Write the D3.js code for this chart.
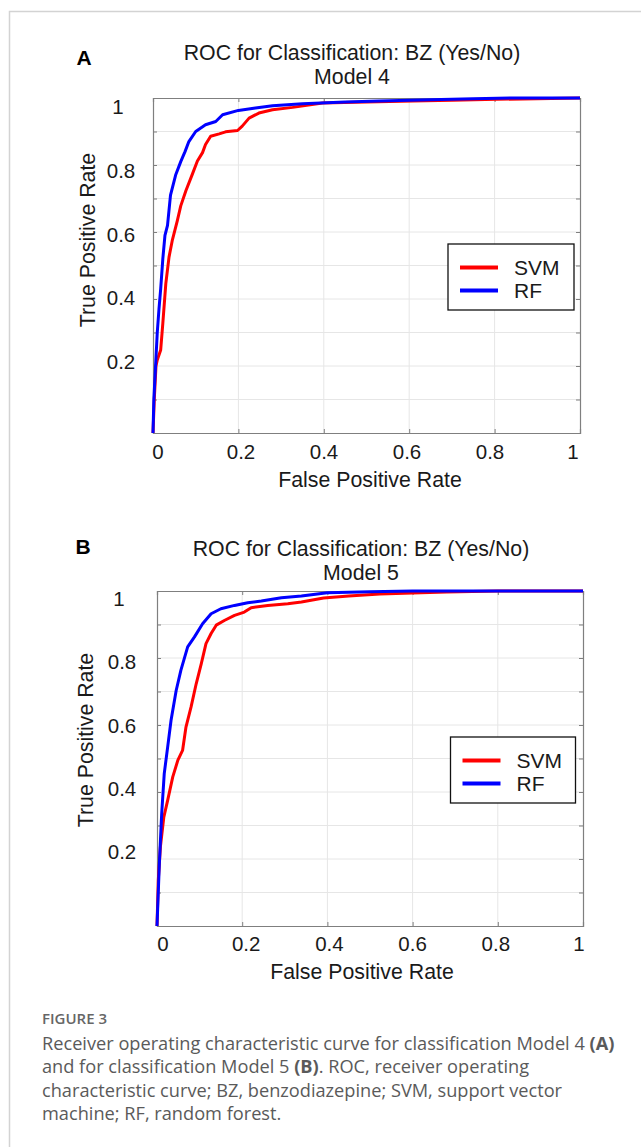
<!DOCTYPE html>
<html>
<head>
<meta charset="utf-8">
<script src="https://cdn.jsdelivr.net/npm/d3@7"></script>
<style>
  html, body { margin: 0; padding: 0; background: #fff; }
  svg { display: block; }
</style>
</head>
<body>
<svg id="chart" width="641" height="1147"></svg>
<script>
// ---------------- DATA ----------------
const seriesNames = ["SVM", "RF"];
const seriesColors = ["#ff0000", "#0000ff"];
const xTickLabels = [0, 0.2, 0.4, 0.6, 0.8, 1];
const yTickLabels = [0.2, 0.4, 0.6, 0.8, 1];
const yGridValues = [0.1, 0.2, 0.3, 0.4, 0.5, 0.6, 0.7, 0.8, 0.9];
const xGridValues = [0.2, 0.4, 0.6, 0.8];

// Panel A (Model 4): [false positive rate, true positive rate]
const modelA_SVM = [[0,0],[0.003,0.10],[0.007,0.20],[0.010,0.218],[0.018,0.248],[0.023,0.327],[0.030,0.446],[0.0375,0.525],[0.045,0.574],[0.057,0.634],[0.065,0.678],[0.077,0.723],[0.092,0.772],[0.104,0.812],[0.116,0.837],[0.123,0.861],[0.135,0.886],[0.155,0.893],[0.170,0.899],[0.198,0.903],[0.209,0.916],[0.225,0.94],[0.248,0.955],[0.280,0.965],[0.327,0.972],[0.397,0.985],[0.50,0.988],[0.608,0.991],[0.70,0.993],[0.805,0.996],[0.90,0.998],[1,1]];
const modelA_RF = [[0,0],[0.002,0.10],[0.006,0.20],[0.010,0.30],[0.014,0.37],[0.018,0.43],[0.023,0.52],[0.028,0.59],[0.034,0.62],[0.041,0.71],[0.053,0.77],[0.065,0.81],[0.075,0.84],[0.084,0.87],[0.100,0.90],[0.123,0.92],[0.147,0.93],[0.163,0.95],[0.200,0.963],[0.240,0.970],[0.280,0.977],[0.35,0.983],[0.45,0.988],[0.53,0.991],[0.65,0.995],[0.75,0.998],[0.85,1.0],[1,1]];

// Panel B (Model 5)
const modelB_SVM = [[0,0],[0.003,0.136],[0.008,0.236],[0.016,0.325],[0.025,0.375],[0.037,0.445],[0.049,0.495],[0.06,0.524],[0.068,0.594],[0.08,0.654],[0.092,0.723],[0.104,0.783],[0.115,0.843],[0.127,0.873],[0.139,0.898],[0.158,0.912],[0.182,0.927],[0.205,0.937],[0.221,0.950],[0.26,0.957],[0.307,0.962],[0.339,0.967],[0.391,0.979],[0.45,0.985],[0.523,0.991],[0.60,0.994],[0.68,0.997],[0.80,1],[1,1]];
const modelB_RF = [[0,0],[0.0055,0.186],[0.011,0.335],[0.017,0.455],[0.025,0.534],[0.033,0.614],[0.045,0.703],[0.056,0.763],[0.072,0.833],[0.088,0.863],[0.107,0.902],[0.127,0.932],[0.15,0.947],[0.182,0.957],[0.213,0.965],[0.245,0.970],[0.292,0.980],[0.339,0.985],[0.40,0.995],[0.50,0.998],[0.60,1],[1,1]];

const panelLetters = ["A", "B"];
const panelTitles = ["ROC for Classification: BZ (Yes/No)", "ROC for Classification: BZ (Yes/No)"];
const panelSubtitles = ["Model 4", "Model 5"];
const xAxisTitle = "False Positive Rate";
const yAxisTitle = "True Positive Rate";

// ---------------- DRAW ----------------
const svg = d3.select("#chart");
const FONT = "'Liberation Sans', Arial, Helvetica, sans-serif";

// outer frame
svg.append("path")
  .attr("d", "M9.5,1147 L9.5,11.5 L641,11.5")
  .attr("fill", "none").attr("stroke", "#d3d3d3").attr("stroke-width", 1.5);

const layouts = [
  { left:153, right:580, top:98, bottom:433,
    xlab:[158,573], xlabY:452, ylab:[362,107], ylabX:121,
    titleX:352, titleY:53, subY:77, letterX:84, letterY:57,
    xTitleX:370, xTitleY:480, yTitleX:88, yTitleY:240,
    legend:{x:448, y:244, w:126, h:66} },
  { left:157, right:583, top:591, bottom:926,
    xlab:[163,579], xlabY:944, ylab:[852,599], ylabX:122,
    titleX:361, titleY:549, subY:573, letterX:83, letterY:546,
    xTitleX:362, xTitleY:972, yTitleX:86, yTitleY:740,
    legend:{x:450.5, y:737, w:125, h:66} }
];
const panelData = [[modelA_SVM, modelA_RF], [modelB_SVM, modelB_RF]];

layouts.forEach((L, p) => {
  const g = svg.append("g");
  const x = d3.scaleLinear().domain([0, 1]).range([L.left, L.right]);
  const y = d3.scaleLinear().domain([0, 1]).range([L.bottom, L.top]);
  const xLab = d3.scaleLinear().domain([0, 1]).range(L.xlab);
  const yLab = d3.scaleLinear().domain([0.2, 1]).range(L.ylab);

  // grid
  g.append("g").selectAll("line").data(yGridValues).join("line")
    .attr("x1", L.left).attr("x2", L.right)
    .attr("y1", d => y(d)).attr("y2", d => y(d))
    .attr("stroke", "#e6e6e6").attr("stroke-width", 1);
  g.append("g").selectAll("line").data(xGridValues).join("line")
    .attr("y1", L.top).attr("y2", L.bottom)
    .attr("x1", d => x(d)).attr("x2", d => x(d))
    .attr("stroke", "#e6e6e6").attr("stroke-width", 1);

  // axes (inward ticks, box)
  const axCol = "#7f7f7f";
  const bottomAx = g.append("g").attr("transform", `translate(0,${L.bottom})`)
    .call(d3.axisBottom(x).tickValues(xGridValues).tickSize(-4).tickFormat(""));
  const topAx = g.append("g").attr("transform", `translate(0,${L.top})`)
    .call(d3.axisTop(x).tickValues(xGridValues).tickSize(-4).tickFormat(""));
  const leftAx = g.append("g").attr("transform", `translate(${L.left},0)`)
    .call(d3.axisLeft(y).tickValues(yGridValues).tickSize(-4).tickFormat(""));
  const rightAx = g.append("g").attr("transform", `translate(${L.right},0)`)
    .call(d3.axisRight(y).tickValues(yGridValues).tickSize(-4).tickFormat(""));
  [bottomAx, topAx, leftAx, rightAx].forEach(a => {
    a.selectAll(".domain").attr("stroke", axCol).attr("stroke-width", 1.2);
    a.selectAll(".tick line").attr("stroke", axCol);
  });

  // tick labels
  g.append("g").selectAll("text").data(xTickLabels).join("text")
    .attr("x", d => xLab(d)).attr("y", L.xlabY)
    .attr("dy", "0.35em").attr("text-anchor", "middle")
    .attr("font-family", FONT).attr("font-size", 20.5).attr("fill", "#1a1a1a")
    .text(d => d3.format("~g")(d));
  g.append("g").selectAll("text").data(yTickLabels).join("text")
    .attr("x", d => d === 1 ? L.ylabX - 3 : L.ylabX).attr("y", d => yLab(d))
    .attr("dy", "0.35em").attr("text-anchor", "middle")
    .attr("font-family", FONT).attr("font-size", 20.5).attr("fill", "#1a1a1a")
    .text(d => d3.format("~g")(d));

  // curves
  const line = d3.line().x(d => x(d[0])).y(d => y(d[1]));
  const clipId = "clip" + p;
  g.append("clipPath").attr("id", clipId).append("rect")
    .attr("x", L.left - 2).attr("y", L.top - 2)
    .attr("width", L.right - L.left + 2).attr("height", L.bottom - L.top + 4);
  panelData[p].forEach((s, i) => {
    g.append("path").datum(s)
      .attr("d", line)
      .attr("fill", "none")
      .attr("stroke", seriesColors[i])
      .attr("stroke-width", 3)
      .attr("stroke-linejoin", "round")
      .attr("clip-path", `url(#${clipId})`);
  });

  // titles
  g.append("text").attr("x", L.titleX).attr("y", L.titleY).attr("dy", "0.35em")
    .attr("text-anchor", "middle").attr("font-family", FONT).attr("font-size", 21.3)
    .attr("fill", "#1a1a1a").text(panelTitles[p]);
  g.append("text").attr("x", L.titleX).attr("y", L.subY).attr("dy", "0.35em")
    .attr("text-anchor", "middle").attr("font-family", FONT).attr("font-size", 21.3)
    .attr("fill", "#1a1a1a").text(panelSubtitles[p]);
  g.append("text").attr("x", L.letterX).attr("y", L.letterY).attr("dy", "0.36em")
    .attr("text-anchor", "middle").attr("font-family", FONT).attr("font-size", 21)
    .attr("font-weight", "bold").attr("fill", "#000").text(panelLetters[p]);

  // axis titles
  g.append("text").attr("x", L.xTitleX).attr("y", L.xTitleY).attr("dy", "0.35em")
    .attr("text-anchor", "middle").attr("font-family", FONT).attr("font-size", 21.3)
    .attr("fill", "#1a1a1a").text(xAxisTitle);
  g.append("text")
    .attr("transform", `translate(${L.yTitleX},${L.yTitleY}) rotate(-90)`)
    .attr("dy", "0.35em").attr("text-anchor", "middle")
    .attr("font-family", FONT).attr("font-size", 21.3).attr("fill", "#1a1a1a")
    .text(yAxisTitle);

  // legend
  const lg = g.append("g").attr("transform", `translate(${L.legend.x},${L.legend.y})`);
  lg.append("rect").attr("width", L.legend.w).attr("height", L.legend.h)
    .attr("fill", "#fff").attr("stroke", "#111").attr("stroke-width", 1.3);
  seriesNames.forEach((n, i) => {
    const ly = 23.5 + i * 23;
    lg.append("line").attr("x1", 12).attr("x2", 50).attr("y1", ly).attr("y2", ly)
      .attr("stroke", seriesColors[i]).attr("stroke-width", 4);
    lg.append("text").attr("x", 66).attr("y", ly).attr("dy", "0.35em")
      .attr("font-family", FONT).attr("font-size", 21).attr("fill", "#1a1a1a").text(n);
  });
});

// caption
const CAPFONT = "'Open Sans', 'Noto Sans', sans-serif";
svg.append("text").attr("x", 42).attr("y", 1023.5)
  .attr("font-family", CAPFONT).attr("font-size", 15).attr("font-weight", 600)
  .attr("fill", "#666").text("FIGURE 3");
const captionLines = [
  [["Receiver operating characteristic curve for classification Model 4 ", false], ["(A)", true]],
  [["and for classification Model 5 ", false], ["(B)", true], [". ROC, receiver operating", false]],
  [["characteristic curve; BZ, benzodiazepine; SVM, support vector", false]],
  [["machine; RF, random forest.", false]]
];
captionLines.forEach((ln, i) => {
  const t = svg.append("text").attr("x", 42).attr("y", 1049.5 + i * 23.6)
    .attr("font-family", CAPFONT).attr("font-size", 18.2).attr("fill", "#5a5a5a");
  ln.forEach(([s, b]) => {
    t.append("tspan").attr("font-weight", b ? 700 : 400).text(s);
  });
});
</script>
</body>
</html>
